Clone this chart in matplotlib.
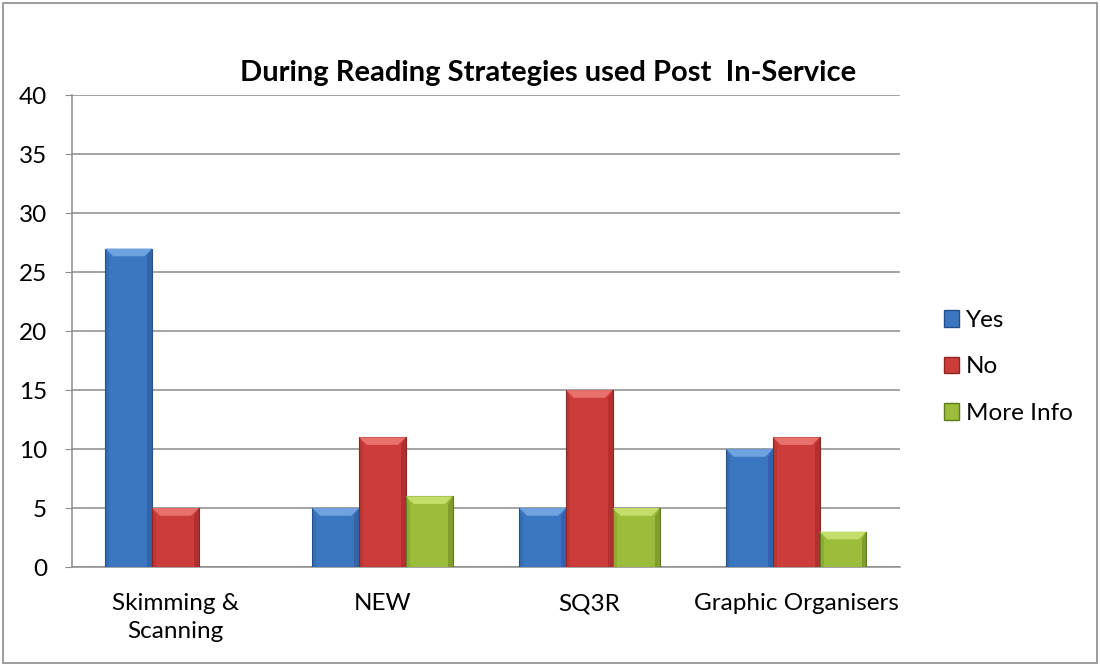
import matplotlib.pyplot as plt
import numpy as np
from matplotlib.patches import Polygon, Patch, Rectangle

categories = ['Skimming &\nScanning', 'NEW', 'SQ3R', 'Graphic Organisers']
series_names = ['Yes', 'No', 'More Info']
yes_vals = [27, 5, 5, 10]
no_vals = [5, 11, 15, 11]
more_vals = [0, 6, 5, 3]
y_ticks = [0, 5, 10, 15, 20, 25, 30, 35, 40]

# base, light (bevel), dark (edge)
colors = {
    'Yes': ('#3b77c0', '#6fa3e0', '#25518a'),
    'No': ('#cc3c3a', '#e8716c', '#8e2523'),
    'More Info': ('#9cbd3c', '#c4de6a', '#5f7a1e'),
}

plt.rcParams['font.family'] = ['Lato', 'DejaVu Sans']

fig = plt.figure(figsize=(11, 6.66), dpi=100)
fig.patches.append(Rectangle((0.003, 0.004), 0.994, 0.992, transform=fig.transFigure,
                             fill=False, edgecolor='#8c8c8c', linewidth=1.2))
ax = fig.add_axes([0.0655, 0.1486, 0.7525, 0.7084])

x = np.arange(len(categories))
width = 0.226
offsets = [-width, 0, width]
all_vals = [yes_vals, no_vals, more_vals]

ax.set_xlim(-0.5, len(categories) - 0.5)
ax.set_ylim(0, 40)

# pixel-ish bevel size in data units
bev_x = 0.038
bev_y = 0.65

for name, vals, off in zip(series_names, all_vals, offsets):
    base, light, dark = colors[name]
    bars = ax.bar(x + off, vals, width, color=base, edgecolor=dark, linewidth=0.8, zorder=3)
    for b in bars:
        h = b.get_height()
        if h <= 0:
            continue
        x0 = b.get_x()
        x1 = x0 + b.get_width()
        bv = min(bev_y, h / 3)
        # top bevel
        ax.add_patch(Polygon([[x0, h], [x1, h], [x1 - bev_x, h - bv], [x0 + bev_x, h - bv]],
                             closed=True, facecolor=light, edgecolor='none', zorder=4))
        # right side shade
        ax.add_patch(Polygon([[x1, h], [x1, 0], [x1 - bev_x * 0.6, 0], [x1 - bev_x * 0.6, h - bv]],
                             closed=True, facecolor=dark, alpha=0.45, edgecolor='none', zorder=4))
        # left side highlight
        ax.add_patch(Polygon([[x0, h], [x0, 0], [x0 + bev_x * 0.5, 0], [x0 + bev_x * 0.5, h - bv]],
                             closed=True, facecolor=dark, alpha=0.25, edgecolor='none', zorder=4))

ax.set_yticks(y_ticks)
ax.set_yticklabels([str(v) for v in y_ticks], fontsize=17.5)
ax.set_xticks(x)
ax.set_xticklabels(categories, fontsize=17.5, linespacing=1.4)
ax.tick_params(axis='x', length=0, pad=19)
ax.tick_params(axis='y', length=5, direction='out', color='#8c8c8c', pad=13)
ax.yaxis.grid(True, color='#8c8c8c', linewidth=1.1, zorder=0)
ax.set_axisbelow(True)
for s in ['top', 'right']:
    ax.spines[s].set_visible(False)
ax.spines['left'].set_color('#8c8c8c')
ax.spines['bottom'].set_color('#8c8c8c')
ax.spines['left'].set_linewidth(1.1)
ax.spines['bottom'].set_linewidth(1.1)

fig.text(0.498, 0.89, 'During Reading Strategies used Post  In-Service', ha='center', va='center',
         fontsize=21, fontweight='bold')

handles = [Patch(facecolor=colors[n][0], edgecolor=colors[n][2], label=n) for n in series_names]
fig.legend(handles=handles, loc='center left', bbox_to_anchor=(0.838, 0.449), frameon=False,
           fontsize=17.5, handlelength=0.65, handleheight=0.65, handletextpad=0.25,
           labelspacing=1.05)

fig.savefig('out.png', dpi=100)
